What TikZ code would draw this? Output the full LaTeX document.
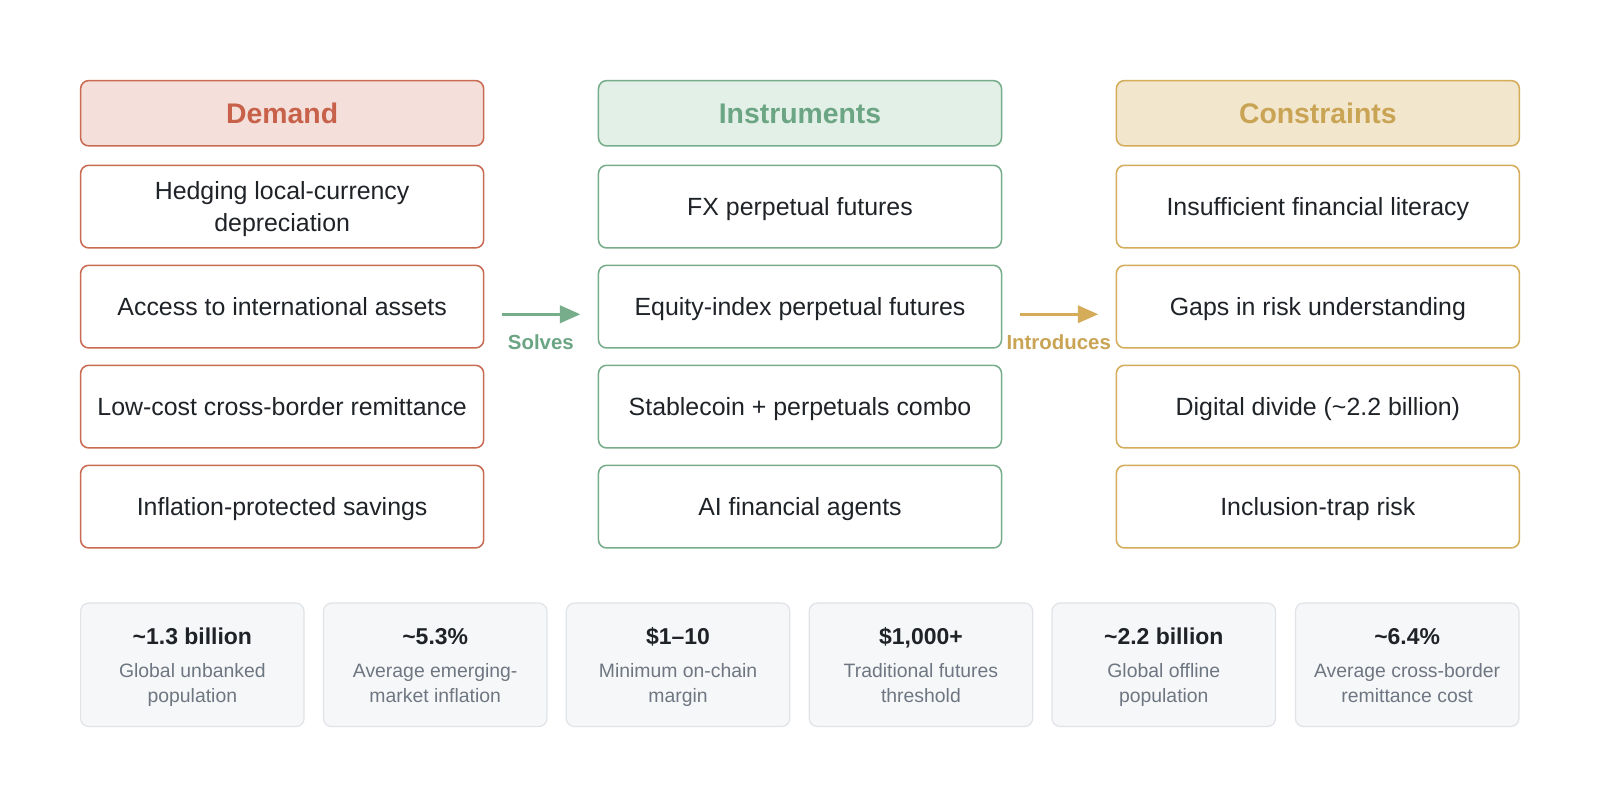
\documentclass[tikz,border=0pt]{standalone}
\usepackage{fontspec}
\setmainfont{Liberation Sans}
\usetikzlibrary{arrows.meta}
\definecolor{redB}{HTML}{C96A52}
\definecolor{redF}{HTML}{F4DFDA}
\definecolor{redT}{HTML}{C8614A}
\definecolor{grnB}{HTML}{77AD8A}
\definecolor{grnF}{HTML}{E3F0E8}
\definecolor{grnT}{HTML}{6BA583}
\definecolor{golB}{HTML}{D4AC5A}
\definecolor{golF}{HTML}{F2E6CC}
\definecolor{golT}{HTML}{C9A455}
\definecolor{statF}{HTML}{F6F7F9}
\definecolor{statB}{HTML}{E0E3E7}
\definecolor{txt}{HTML}{1F2328}
\definecolor{sub}{HTML}{6E7781}
\tikzset{
  box/.style={draw, rounded corners=8pt, line width=1.5pt, minimum width=395pt, minimum height=81pt, inner sep=0pt, align=center, text=txt, font=\fontsize{24.4}{31}\selectfont, text height=17.5pt, text depth=0pt},
  head/.style={draw, rounded corners=8pt, line width=1.5pt, minimum width=395pt, minimum height=64pt, inner sep=0pt, font=\fontsize{27.8}{32}\selectfont\bfseries, text height=19.9pt, text depth=0pt},
  statbox/.style={draw=statB, fill=statF, rounded corners=8pt, line width=1.2pt, minimum width=219pt, minimum height=121pt, inner sep=0pt},
  num/.style={text=txt, font=\fontsize{22.5}{28}\selectfont\bfseries, inner sep=0pt, anchor=base},
  lab/.style={text=sub, font=\fontsize{19}{24.5}\selectfont, inner sep=0pt, anchor=base},
  flow/.style={line width=2.6pt, -{Triangle[length=20pt,width=17pt]}, shorten <=17pt, shorten >=17pt},
  flowlab/.style={font=\fontsize{20}{24}\selectfont\bfseries, inner sep=0pt}
}
\begin{document}
\begin{tikzpicture}[x=1pt,y=-1pt]
\path[fill=white] (0,0) rectangle (1568,791);
\useasboundingbox (0,0) rectangle (1568,791);
% Demand column
\node[head, draw=redB, fill=redF, text=redT] (dh) at (276.5,111) {Demand};
\node[box, draw=redB, text height=48.5pt] (d1) at (276.5,202.5) {Hedging local-currency\\depreciation};
\node[box, draw=redB] (d2) at (276.5,300.5) {Access to international assets};
\node[box, draw=redB] (d3) at (276.5,398.5) {Low-cost cross-border remittance};
\node[box, draw=redB] (d4) at (276.5,496.5) {Inflation-protected savings};
% Instruments column
\node[head, draw=grnB, fill=grnF, text=grnT] (ih) at (784,111) {Instruments};
\node[box, draw=grnB] (i1) at (784,202.5) {FX perpetual futures};
\node[box, draw=grnB] (i2) at (784,300.5) {Equity-index perpetual futures};
\node[box, draw=grnB] (i3) at (784,398.5) {Stablecoin + perpetuals combo};
\node[box, draw=grnB] (i4) at (784,496.5) {AI financial agents};
% Constraints column
\node[head, draw=golB, fill=golF, text=golT] (ch) at (1291.5,111) {Constraints};
\node[box, draw=golB] (c1) at (1291.5,202.5) {Insufficient financial literacy};
\node[box, draw=golB] (c2) at (1291.5,300.5) {Gaps in risk understanding};
\node[box, draw=golB] (c3) at (1291.5,398.5) {Digital divide (\textasciitilde2.2 billion)};
\node[box, draw=golB] (c4) at (1291.5,496.5) {Inclusion-trap risk};
% arrows
\draw[flow, grnB] ([yshift=-7.5pt]d2.east) -- ([yshift=-7.5pt]i2.west);
\node[flowlab, text=grnT] (solves) at (530,335) {Solves};
\draw[flow, golB] ([yshift=-7.5pt]i2.east) -- ([yshift=-7.5pt]c2.west);
\node[flowlab, text=golT] (intro) at (1037.5,335) {Introduces};
% stats
\foreach \n/\x/\v/\a/\b in {
  1/188.5/{\textasciitilde1.3 billion}/{Global unbanked}/{population},
  2/426.5/{\textasciitilde5.3\%}/{Average emerging-}/{market inflation},
  3/664.5/{\$1–10}/{Minimum on-chain}/{margin},
  4/902.5/{\$1,000+}/{Traditional futures}/{threshold},
  5/1140.5/{\textasciitilde2.2 billion}/{Global offline}/{population},
  6/1379/{\textasciitilde6.4\%}/{Average cross-border}/{remittance cost}} {
  \node[statbox] (s\n) at (\x,651.5) {};
  \node[num] (sn\n) at (\x,632) {\v};
  \node[lab] (sla\n) at (\x,664) {\a};
  \node[lab] (slb\n) at (\x,688) {\b};
}
\end{tikzpicture}
\end{document}
